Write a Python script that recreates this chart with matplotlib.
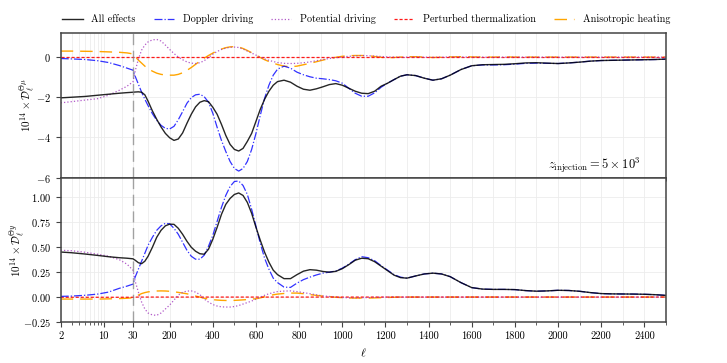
import numpy as np
import matplotlib
matplotlib.use("Agg")
import matplotlib.pyplot as plt
from matplotlib.ticker import FixedLocator, FixedFormatter, NullFormatter

plt.rcParams.update({
    "font.family": "serif",
    "font.serif": ["cmr10", "DejaVu Serif"],
    "mathtext.fontset": "cm",
    "axes.formatter.use_mathtext": True,
    "axes.unicode_minus": True,
    "font.size": 7.5,
})

# ---------------- data ----------------
ell = [2, 3, 5, 8, 12, 18, 24, 30, 40, 55, 70, 85,
       100, 120, 140, 160, 180, 200, 220, 240, 260, 280, 300, 320, 340, 360, 380,
       400, 420, 440, 460, 480, 500, 520, 540, 560, 580, 600, 620, 640, 660, 680, 700,
       730, 760, 790, 820, 850, 880, 910, 940, 970, 1000, 1030, 1060, 1090, 1120,
       1150, 1180, 1210, 1240, 1270, 1300,
       1340, 1380, 1420, 1460, 1500,
       1550, 1600, 1650, 1700, 1750, 1800, 1850, 1900, 1950, 2000, 2050, 2100,
       2150, 2200, 2250, 2300, 2350, 2400, 2450, 2500]

# Theta-mu panel
mu_all = [-2.03, -2.0, -1.96, -1.9, -1.85, -1.8, -1.77, -1.75, -1.74, -1.73, -1.75, -1.88,
          -2.2, -2.68, -3.1, -3.48, -3.8, -4.02, -4.15, -4.08, -3.78, -3.3, -2.85, -2.48, -2.25, -2.17, -2.22,
          -2.5, -2.85, -3.35, -3.9, -4.35, -4.6, -4.68, -4.55, -4.2, -3.8, -3.2, -2.6, -2.1, -1.7, -1.4, -1.22,
          -1.15, -1.25, -1.45, -1.6, -1.65, -1.58, -1.48, -1.37, -1.32, -1.4, -1.55, -1.7, -1.8, -1.82,
          -1.7, -1.45, -1.3, -1.12, -0.95, -0.88,
          -0.92, -1.05, -1.15, -1.08, -0.9,
          -0.62, -0.43, -0.38, -0.37, -0.36, -0.33, -0.29, -0.28, -0.3, -0.32, -0.29, -0.25,
          -0.2, -0.17, -0.16, -0.15, -0.14, -0.13, -0.12, -0.1]
mu_doppler = [-0.07, -0.09, -0.12, -0.18, -0.27, -0.42, -0.55, -0.65, -0.95, -1.35, -1.75, -2.1,
              -2.42, -2.82, -3.15, -3.4, -3.55, -3.58, -3.45, -3.12, -2.72, -2.3, -2.02, -1.88, -1.85, -1.97, -2.25,
              -2.8, -3.5, -4.15, -4.7, -5.2, -5.55, -5.68, -5.55, -5.2, -4.6, -3.8, -2.9, -2.05, -1.4, -0.9, -0.6,
              -0.45, -0.55, -0.75, -0.88, -0.98, -1.05, -1.08, -1.12, -1.18, -1.3, -1.55, -1.8, -1.95, -1.95,
              -1.78, -1.5, -1.3, -1.12, -0.95, -0.88,
              -0.92, -1.05, -1.15, -1.08, -0.9,
              -0.62, -0.43, -0.39, -0.39, -0.38, -0.35, -0.31, -0.3, -0.31, -0.32, -0.29, -0.25,
              -0.2, -0.17, -0.16, -0.15, -0.14, -0.13, -0.12, -0.1]
mu_potential = [-2.28, -2.22, -2.14, -2.07, -1.9, -1.65, -1.45, -1.23, -0.7, -0.1, 0.35, 0.6,
                0.76, 0.86, 0.88, 0.8, 0.6, 0.38, 0.18, 0.0, -0.13, -0.24, -0.3, -0.32, -0.28, -0.18, -0.02,
                0.15, 0.28, 0.38, 0.45, 0.49, 0.5, 0.48, 0.4, 0.3, 0.2, 0.1, 0.0, -0.09, -0.16, -0.22, -0.27,
                -0.31, -0.32, -0.31, -0.28, -0.24, -0.18, -0.12, -0.07, -0.03, 0.01, 0.04, 0.06, 0.08, 0.07,
                0.05, 0.03, 0.01, 0.0, -0.01, 0.0,
                0.01, 0.0, -0.01, 0.0, 0.01,
                0.01, 0.0, 0.0, -0.01, 0.0, 0.0, 0.0, 0.0, 0.0, 0.0, 0.0, 0.0,
                0.0, 0.0, 0.0, 0.0, 0.0, 0.0, 0.0, 0.0]
mu_thermal = [0.0, 0.0, 0.0, 0.0, 0.0, 0.0, 0.0, 0.0, 0.0, 0.0, 0.0, 0.0,
              0.0, 0.0, 0.0, 0.0, 0.0, 0.0, 0.0, 0.0, 0.0, 0.0, 0.0, 0.0, 0.0, 0.0, 0.0,
              0.0, 0.0, 0.0, 0.0, 0.0, 0.0, 0.0, 0.0, 0.0, 0.0, 0.0, 0.0, 0.0, 0.0, 0.0, 0.0,
              0.0, 0.0, 0.0, 0.0, 0.0, 0.0, 0.0, 0.0, 0.0, 0.0, 0.0, 0.0, 0.0, 0.0,
              0.0, 0.0, 0.0, 0.0, 0.0, 0.0,
              0.0, 0.0, 0.0, 0.0, 0.0,
              0.0, 0.0, 0.0, 0.0, 0.0, 0.0, 0.0, 0.0, 0.0, 0.0, 0.0, 0.0,
              0.0, 0.0, 0.0, 0.0, 0.0, 0.0, 0.0, 0.0]
mu_aniso = [0.3, 0.3, 0.29, 0.28, 0.26, 0.24, 0.21, 0.16, 0.02, -0.15, -0.3, -0.45,
            -0.58, -0.7, -0.8, -0.86, -0.89, -0.9, -0.9, -0.86, -0.78, -0.66, -0.52, -0.36, -0.2, -0.05, 0.08,
            0.2, 0.31, 0.4, 0.47, 0.51, 0.52, 0.5, 0.43, 0.33, 0.22, 0.1, -0.02, -0.13, -0.22, -0.3, -0.37,
            -0.45, -0.48, -0.45, -0.38, -0.31, -0.23, -0.15, -0.07, -0.01, 0.04, 0.07, 0.08, 0.08, 0.07,
            0.03, -0.01, -0.03, -0.02, 0.0, 0.02,
            0.02, 0.0, -0.02, -0.01, 0.01,
            0.02, 0.01, 0.0, 0.0, 0.01, 0.0, 0.0, 0.0, 0.0, 0.0, 0.0, 0.0,
            0.0, 0.0, 0.0, 0.0, 0.0, 0.0, 0.0, 0.0]

# Theta-y panel
y_all = [0.452, 0.445, 0.432, 0.418, 0.405, 0.395, 0.39, 0.384, 0.37, 0.345, 0.335, 0.36,
         0.41, 0.5, 0.6, 0.67, 0.715, 0.732, 0.73, 0.69, 0.63, 0.56, 0.5, 0.46, 0.435, 0.43, 0.48,
         0.58, 0.7, 0.83, 0.93, 0.99, 1.03, 1.045, 1.02, 0.95, 0.84, 0.7, 0.57, 0.45, 0.35, 0.27, 0.225,
         0.185, 0.185, 0.225, 0.26, 0.275, 0.27, 0.257, 0.25, 0.258, 0.285, 0.325, 0.37, 0.39, 0.385,
         0.355, 0.31, 0.265, 0.22, 0.195, 0.19,
         0.212, 0.232, 0.24, 0.232, 0.205,
         0.145, 0.095, 0.08, 0.077, 0.077, 0.075, 0.065, 0.059, 0.062, 0.068, 0.066, 0.058,
         0.045, 0.035, 0.032, 0.031, 0.03, 0.028, 0.024, 0.017]
y_doppler = [0.007, 0.01, 0.018, 0.03, 0.05, 0.088, 0.11, 0.13, 0.2, 0.28, 0.36, 0.44,
             0.52, 0.6, 0.67, 0.715, 0.74, 0.735, 0.69, 0.63, 0.55, 0.47, 0.41, 0.38, 0.38, 0.42, 0.51,
             0.62, 0.76, 0.9, 1.02, 1.11, 1.16, 1.165, 1.12, 1.03, 0.88, 0.71, 0.54, 0.39, 0.28, 0.19, 0.145,
             0.1, 0.097, 0.14, 0.175, 0.2, 0.222, 0.24, 0.25, 0.262, 0.29, 0.33, 0.375, 0.405, 0.395,
             0.365, 0.315, 0.27, 0.225, 0.2, 0.19,
             0.212, 0.232, 0.24, 0.232, 0.205,
             0.145, 0.095, 0.08, 0.077, 0.077, 0.075, 0.065, 0.059, 0.062, 0.068, 0.066, 0.058,
             0.045, 0.035, 0.032, 0.031, 0.03, 0.028, 0.024, 0.017]
y_potential = [0.47, 0.465, 0.45, 0.43, 0.41, 0.375, 0.33, 0.27, 0.16, 0.05, -0.05, -0.12,
               -0.16, -0.18, -0.183, -0.16, -0.12, -0.08, -0.03, 0.02, 0.048, 0.06, 0.062, 0.05, 0.025, -0.02, -0.05,
               -0.075, -0.09, -0.098, -0.1, -0.1, -0.095, -0.085, -0.07, -0.055, -0.04, -0.02, 0.0, 0.018, 0.033, 0.045, 0.055,
               0.06, 0.062, 0.055, 0.045, 0.034, 0.022, 0.012, 0.006, 0.0, -0.005, -0.007, -0.008, -0.007, -0.005,
               -0.003, -0.002, 0.0, 0.0, 0.0, 0.0,
               0.0, 0.0, 0.0, 0.0, 0.0,
               0.0, 0.0, 0.0, 0.0, 0.0, 0.0, 0.0, 0.0, 0.0, 0.0, 0.0, 0.0,
               0.0, 0.0, 0.0, 0.0, 0.0, 0.0, 0.0, 0.0]
y_thermal = [-0.002, -0.002, -0.002, -0.002, -0.002, -0.002, -0.002, -0.002, -0.001, 0.0, 0.0, 0.0,
             0.0, 0.0, 0.0, 0.0, 0.0, 0.0, 0.0, 0.0, 0.0, 0.0, 0.0, 0.0, 0.0, 0.0, 0.0,
             0.0, 0.0, 0.0, 0.0, 0.0, 0.0, 0.0, 0.0, 0.0, 0.0, 0.0, 0.0, 0.0, 0.0, 0.0, 0.0,
             0.0, 0.0, 0.0, 0.0, 0.0, 0.0, 0.0, 0.0, 0.0, 0.0, 0.0, 0.0, 0.0, 0.0,
             0.0, 0.0, 0.0, 0.0, 0.0, 0.0,
             0.0, 0.0, 0.0, 0.0, 0.0,
             0.0, 0.0, 0.0, 0.0, 0.0, 0.0, 0.0, 0.0, 0.0, 0.0, 0.0, 0.0,
             0.0, 0.0, 0.0, 0.0, 0.0, 0.0, 0.0, 0.0]
y_aniso = [-0.02, -0.02, -0.02, -0.02, -0.018, -0.015, -0.012, -0.007, 0.005, 0.02, 0.035, 0.045,
           0.052, 0.058, 0.061, 0.062, 0.061, 0.058, 0.053, 0.047, 0.04, 0.033, 0.022, 0.01, 0.0, -0.012, -0.02,
           -0.026, -0.03, -0.033, -0.034, -0.034, -0.033, -0.031, -0.028, -0.025, -0.02, -0.017, -0.008, 0.003, 0.013, 0.023, 0.03,
           0.036, 0.04, 0.04, 0.034, 0.025, 0.017, 0.01, 0.004, -0.002, -0.006, -0.009, -0.01, -0.01, -0.01,
           -0.008, -0.006, -0.004, -0.002, 0.0, 0.0,
           0.0, 0.0, 0.0, 0.0, 0.0,
           0.0, 0.0, 0.0, 0.0, 0.0, 0.0, 0.0, 0.0, 0.0, 0.0, 0.0, 0.0,
           0.0, 0.0, 0.0, 0.0, 0.0, 0.0, 0.0, 0.0]

labels = ["All effects", "Doppler driving", "Potential driving",
          "Perturbed thermalization", "Anisotropic heating"]
xticks_major = [2, 10, 30, 200, 400, 600, 800, 1000, 1200, 1400, 1600, 1800, 2000, 2200, 2400]
xticks_minor = [3, 4, 5, 6, 7, 8, 9, 20, 100, 300, 500, 700, 900, 1100, 1300, 1500,
                1700, 1900, 2100, 2300, 2500]
mu_yticks = [-6, -4, -2, 0]
y_yticks = [-0.25, 0.0, 0.25, 0.50, 0.75, 1.00]

# ---------------- scale: log below 30, linear above ----------------
LOGSPAN = 335.0
def fwd(x):
    x = np.asarray(x, dtype=float)
    xs = np.clip(x, 1e-3, None)
    return np.where(x >= 30, x, 30 - LOGSPAN * np.log10(30.0 / xs) / np.log10(15.0))

def inv(y):
    y = np.asarray(y, dtype=float)
    return np.where(y >= 30, y, 30.0 / 15.0 ** ((30 - y) / LOGSPAN))

fig, (ax1, ax2) = plt.subplots(2, 1, sharex=True, figsize=(7.27, 3.63), dpi=100)
fig.subplots_adjust(left=0.0835, right=0.916, top=0.909, bottom=0.113, hspace=0)

styles = [
    dict(color="black", lw=1.0, ls="-", alpha=0.85),
    dict(color="blue", lw=0.9, ls="-.", alpha=0.8),
    dict(color="#a43cbf", lw=0.9, ls=":", alpha=0.85),
    dict(color="red", lw=0.9, ls=(0, (2.5, 1.5)), alpha=0.9),
    dict(color="orange", lw=1.0, ls=(0, (9, 5)), alpha=1.0),
]

mu_series = [mu_all, mu_doppler, mu_potential, mu_thermal, mu_aniso]
y_series = [y_all, y_doppler, y_potential, y_thermal, y_aniso]
order = [4, 3, 2, 1, 0]

for ax, series in [(ax1, mu_series), (ax2, y_series)]:
    ax.set_xscale("function", functions=(fwd, inv))
    for i in order:
        ax.plot(ell, series[i], label=labels[i], **styles[i])
    ax.axvline(30, color="gray", ls=(0, (8, 4)), lw=1.0, alpha=0.7)
    ax.grid(True, which="both", color="#ececec", lw=0.6)
    ax.set_axisbelow(True)
    for s in ax.spines.values():
        s.set_color("#444444")
        s.set_linewidth(1.1)
    ax.tick_params(direction="out", length=3.5, width=0.8, color="#444444", labelsize=7.5)
    ax.tick_params(which="minor", direction="out", length=2.0, width=0.6, color="#444444")

ax2.set_xlim(2, 2500)
ax2.xaxis.set_major_locator(FixedLocator(xticks_major))
ax2.xaxis.set_major_formatter(FixedFormatter([str(t) for t in xticks_major]))
ax2.xaxis.set_minor_locator(FixedLocator(xticks_minor))
ax2.xaxis.set_minor_formatter(NullFormatter())

ax1.set_ylim(-6, 1.2)
ax1.set_yticks(mu_yticks)
ax2.set_ylim(-0.25, 1.2)
ax2.set_yticks(y_yticks)
ax2.set_yticklabels([r"$-0.25$", r"$0.00$", r"$0.25$", r"$0.50$", r"$0.75$", r"$1.00$"])
ax1.set_yticklabels([r"$-6$", r"$-4$", r"$-2$", r"$0$"])

ax1.set_ylabel(r"$10^{14}\times\mathcal{D}_\ell^{\Theta\mu}$", fontsize=8, labelpad=-1.0)
ax2.set_ylabel(r"$10^{14}\times\mathcal{D}_\ell^{\Theta y}$", fontsize=8, labelpad=-3.0)
ax2.set_xlabel(r"$\ell$", fontsize=8.5)

ax1.text(0.958, 0.085, r"$z_{\rm injection} = 5\times10^3$", transform=ax1.transAxes,
         ha="right", va="center", fontsize=9)

handles, labs = ax1.get_legend_handles_labels()
hmap = dict(zip(labs, handles))
ax1.legend([hmap[l] for l in labels], labels, loc="lower center", bbox_to_anchor=(0.505, 1.01),
           ncol=5, frameon=False, fontsize=7.3, handlelength=2.0, columnspacing=1.8,
           handletextpad=0.85, borderaxespad=0.3)

fig.savefig("out.png", dpi=100)
